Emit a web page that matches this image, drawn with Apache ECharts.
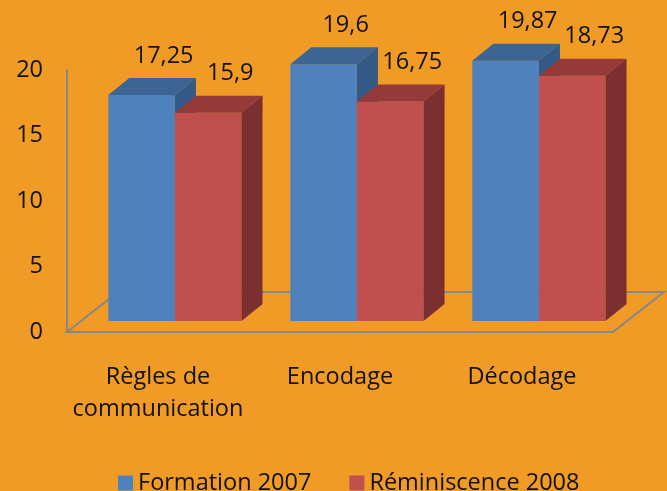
<!DOCTYPE html>
<html>
<head>
<meta charset="utf-8">
<script src="https://cdn.jsdelivr.net/npm/echarts@6/dist/echarts.min.js"></script>
<style>
html,body{margin:0;padding:0;background:#EF9B25;}
#chart{width:667px;height:491px;}
</style>
</head>
<body>
<div id="chart"></div>
<script>
// ---- data ----
const categories = ['Règles de\ncommunication', 'Encodage', 'Décodage'];
const seriesNames = ['Formation 2007', 'Réminiscence 2008'];
const formation2007 = [17.25, 19.6, 19.87];
const reminiscence2008 = [15.9, 16.75, 18.73];
const yMin = 0, yMax = 20, yStep = 5;

// ---- styles ----
const FONT = 'Open Sans';
const FS = 23.5;
const TXT = '#111111';
const AXIS = '#878787';
const palettes = [
  { front: '#4F81BD', top: '#3D6493', side: '#335A87' },
  { front: '#C0504D', top: '#943B39', side: '#7C2F30' }
];
const DX = 21, DY = -17;      // bar depth
const FDX = 51, FDY = -40;    // floor depth
const LIFT = 11;              // bars sit behind the front plane

function fmt(v) { return String(v).replace('.', ','); }

function barRenderer(idx) {
  const pal = palettes[idx];
  return function (params, api) {
    const ci = api.value(0), v = api.value(1);
    const base = api.coord([ci, 0]);
    const topP = api.coord([ci, v]);
    const bw = api.size([1, 0])[0];
    const barW = bw * 0.366;
    const cx = base[0] + bw * 0.093;
    const x0 = idx === 0 ? cx - barW : cx;
    const x1 = x0 + barW;
    const yb = base[1] - LIFT;
    const yt = topP[1] - LIFT;
    return {
      type: 'group',
      children: [
        { type: 'rect', shape: { x: x0, y: yt, width: barW, height: yb - yt }, style: { fill: pal.front } },
        { type: 'polygon', shape: { points: [[x0, yt], [x1, yt], [x1 + DX, yt + DY], [x0 + DX, yt + DY]] }, style: { fill: pal.top } },
        { type: 'polygon', shape: { points: [[x1, yt], [x1 + DX, yt + DY], [x1 + DX, yb + DY], [x1, yb]] }, style: { fill: pal.side } },
        { type: 'text', style: { x: (x0 + x1) / 2 + DX + 1, y: yt + DY - 22, text: fmt(v), fill: TXT,
            font: FS + 'px "' + FONT + '"', align: 'center', verticalAlign: 'middle' } }
      ]
    };
  };
}

function floorRenderer(params, api) {
  const c = params.coordSys;
  const xl = c.x, xr = c.x + c.width, yf = c.y + c.height;
  return {
    type: 'polygon',
    shape: { points: [[xl, yf], [xr, yf], [xr + FDX, yf + FDY], [xl + FDX, yf + FDY]] },
    style: { fill: 'none', stroke: AXIS, lineWidth: 2 }
  };
}

const chart = echarts.init(document.getElementById('chart'), null, { renderer: 'canvas' });
chart.setOption({
  backgroundColor: '#EF9B25',
  animation: false,
  textStyle: { fontFamily: FONT },
  grid: { left: 67, right: 54, top: 70, bottom: 159 },
  legend: {
    data: seriesNames,
    left: 113, top: 466,
    icon: 'rect', itemWidth: 15, itemHeight: 15, itemGap: 38,
    textStyle: { fontSize: FS, color: TXT, fontFamily: FONT }
  },
  xAxis: {
    type: 'category',
    data: categories,
    axisLine: { show: false },
    axisTick: { show: false },
    axisLabel: {
      margin: 29,
      interval: 0,
      fontSize: FS, lineHeight: 32, color: TXT, fontFamily: FONT
    }
  },
  yAxis: {
    type: 'value',
    min: yMin, max: yMax, interval: yStep,
    axisLine: { show: true, lineStyle: { color: AXIS, width: 2 } },
    axisTick: { show: false },
    splitLine: { show: false },
    axisLabel: { margin: 24, fontSize: FS, color: TXT, fontFamily: FONT }
  },
  series: [
    { name: 'floor', type: 'custom', renderItem: floorRenderer, data: [[0, 0]], silent: true, z: 1 },
    { name: seriesNames[0], type: 'custom', renderItem: barRenderer(0), itemStyle: { color: palettes[0].front },
      data: formation2007.map((v, i) => [i, v]), z: 3 },
    { name: seriesNames[1], type: 'custom', renderItem: barRenderer(1), itemStyle: { color: palettes[1].front },
      data: reminiscence2008.map((v, i) => [i, v]), z: 4 }
  ]
});
</script>
</body>
</html>
